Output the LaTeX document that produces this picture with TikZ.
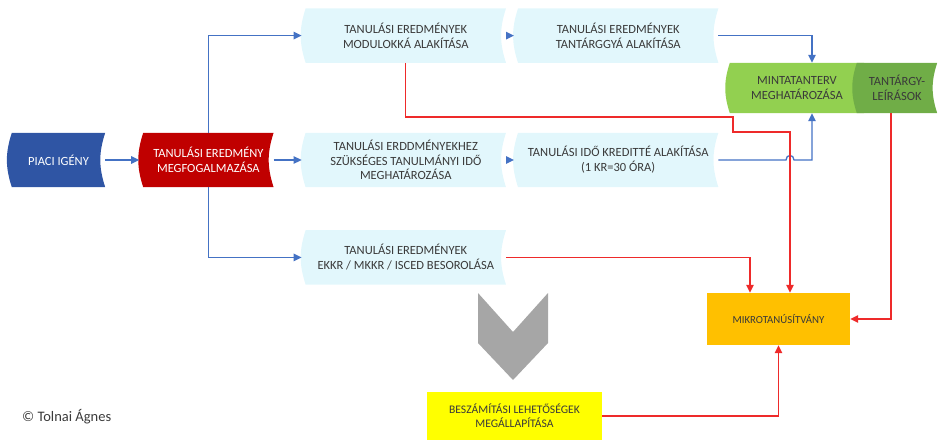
\documentclass[tikz,border=0pt]{standalone}
\usepackage{fontspec}
\setmainfont{Carlito}
\usetikzlibrary{positioning,arrows.meta,backgrounds}

\definecolor{piacblue}{HTML}{2F55A4}
\definecolor{megfogred}{HTML}{C00000}
\definecolor{lapcyan}{HTML}{E2F7FC}
\definecolor{mintagreen}{HTML}{92D050}
\definecolor{leirasgreen}{HTML}{70AD47}
\definecolor{microorange}{HTML}{FFC000}
\definecolor{beszyellow}{HTML}{FFFF00}
\definecolor{chevgray}{HTML}{A6A6A6}
\definecolor{textgray}{HTML}{3A3A3A}
\definecolor{linkblue}{HTML}{4472C4}
\definecolor{linkred}{HTML}{EE2A2A}

\tikzset{
  box/.style={align=center, inner sep=0pt, text=textgray,
    font=\fontsize{12.5}{14.8}\selectfont},
  flowbox/.style={box, minimum height=54pt},
  lapbox/.style={flowbox, minimum width=200pt},
  bline/.style={draw=linkblue, line width=1.3pt, -{Triangle[length=8pt,width=7.5pt]}},
  rline/.style={draw=linkred, line width=1.3pt, -{Triangle[length=8pt,width=7.5pt]}},
  into/.style={shorten >=4pt},
}

\begin{document}
\begin{tikzpicture}[x=1pt,y=-1pt]
    \useasboundingbox (0,0) rectangle (940,444);

    \node[flowbox, text=white, minimum width=93pt] (piac) at (58.5,160) {PIACI IGÉNY};
    \node[flowbox, text=white, minimum width=130pt, right=38pt of piac] (megfog) {TANULÁSI EREDMÉNY\\MEGFOGALMAZÁSA};
    \node[lapbox, right=32pt of megfog] (idomeg) {TANULÁSI ERDDMÉNYEKHEZ\\SZÜKSÉGES TANULMÁNYI IDŐ\\MEGHATÁROZÁSA};
    \node[lapbox, right=12pt of idomeg] (kredit) {TANULÁSI IDŐ KREDITTÉ ALAKÍTÁSA\\(1 KR=30 ÓRA)};
    \node[lapbox, above=70pt of idomeg] (modul) {TANULÁSI EREDMÉNYEK\\MODULOKKÁ ALAKÍTÁSA};
    \node[lapbox, right=12pt of modul] (tantargy) {TANULÁSI EREDMÉNYEK\\TANTÁRGGYÁ ALAKÍTÁSA};
    \node[lapbox, below=43pt of idomeg] (besorol) {TANULÁSI EREDMÉNYEK\\EKKR / MKKR / ISCED BESOROLÁSA};
    \node[box, minimum width=134pt, minimum height=50pt] (minta) at (797,88) {MINTATANTERV\\MEGHATÁROZÁSA};
    \node[box, minimum width=80pt, minimum height=50pt] (leiras) at (897,88) {TANTÁRGY-\\LEÍRÁSOK};
    \node[box, fill=microorange, minimum width=143pt, minimum height=52pt,
          font=\fontsize{10.8}{13}\selectfont] (micro) at (778.5,319) {MIKROTANÚSÍTVÁNY};
    \node[box, fill=beszyellow, minimum width=175pt, minimum height=48pt,
          font=\fontsize{11.6}{14}\selectfont] (besz) at (514.5,416) {BESZÁMÍTÁSI LEHETŐSÉGEK\\MEGÁLLAPÍTÁSA};
    \node[box, anchor=west, font=\fontsize{14.5}{16}\selectfont] (copy) at (22,417) {© Tolnai Ágnes};

    % curved backgrounds
    \begin{scope}[on background layer]
      \foreach \n/\c in {piac/piacblue, megfog/megfogred, modul/lapcyan, tantargy/lapcyan,
                         idomeg/lapcyan, kredit/lapcyan, besorol/lapcyan,
                         minta/mintagreen, leiras/leirasgreen}
        \fill[\c] (\n.north west) to[bend right=18] (\n.south west) -- (\n.south east)
                  to[bend left=18] (\n.north east) -- cycle;
    \end{scope}

    \fill[chevgray] (478,293) -- (513,332) -- (548,293) -- (548,343) -- (513,380) -- (478,343) -- cycle;

    \coordinate (bendA) at (733,117);
    \coordinate (bendB) at (733,132);
    \coordinate (hop) at (790,160);

    \draw[bline, into] (piac) -- (megfog);
    \draw[bline, into] (megfog) -- (idomeg);
    \draw[bline, into] (megfog.north) |- (modul);
    \draw[bline, into] (megfog.south) |- (besorol);
    \draw[bline, into] (modul) -- (tantargy);
    \draw[bline, into] (idomeg) -- (kredit);
    \draw[bline] (tantargy) -| ([xshift=15pt]minta.north);
    \draw[bline] (kredit) -- ([xshift=-4pt]hop) .. controls +(0,-6) and +(0,-6) .. ([xshift=4pt]hop)
                 -| ([xshift=15pt]minta.south);

    \draw[rline] (modul.south) |- (bendA) -- (bendB) -| ([xshift=11.5pt]micro.north);
    \draw[rline] (besorol) -| ([xshift=-28.5pt]micro.north);
    \draw[rline] ([xshift=-6pt]leiras.south) |- (micro);
    \draw[rline] (besz) -| (micro);
\end{tikzpicture}
\end{document}
